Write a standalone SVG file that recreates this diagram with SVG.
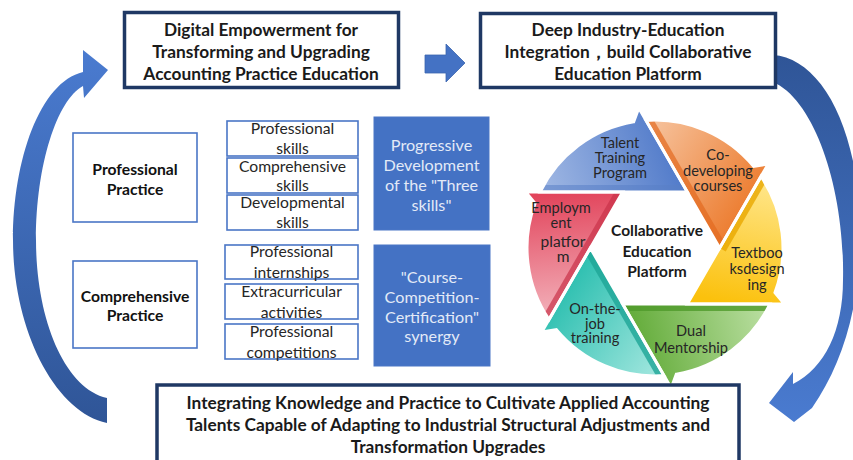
<svg xmlns="http://www.w3.org/2000/svg" width="853" height="460" viewBox="0 0 853 460">
  <style>
    .title { font-family: Lato, "Liberation Sans", sans-serif; font-weight: bold; font-size: 17.3px; fill: #1a1a1a; text-anchor: middle; }
    .frame { fill: #ffffff; stroke: #1f3864; stroke-width: 3.5; }
    .lbox { fill: #ffffff; stroke: #4a76c6; stroke-width: 1.6; }
    .lbl { font-family: Lato, "Liberation Sans", sans-serif; font-weight: bold; font-size: 15.7px; fill: #111111; text-anchor: middle; }
    .item { font-family: Lato, "Liberation Sans", sans-serif; font-size: 15.7px; fill: #262626; text-anchor: middle; }
    .bbox { fill: #4472c4; stroke: #4a76c6; stroke-width: 1; }
    .btxt { font-family: Lato, "Liberation Sans", sans-serif; font-size: 16.2px; fill: #e3eaf7; text-anchor: middle; }
    .wtxt { font-family: Lato, "Liberation Sans", sans-serif; font-size: 14.6px; fill: #262626; text-anchor: middle; }
    .ctxt { font-family: Lato, "Liberation Sans", sans-serif; font-weight: bold; font-size: 15.5px; fill: #1a1a1a; text-anchor: middle; }
    .gap { fill: none; stroke: #ffffff; stroke-width: 3; stroke-linejoin: miter; }
  </style>
  <defs>
    <linearGradient id="gLeft" x1="0" y1="0" x2="0" y2="1">
      <stop offset="0" stop-color="#4a7bd0"/>
      <stop offset="1" stop-color="#2f5597"/>
    </linearGradient>
    <linearGradient id="gRight" x1="0" y1="0" x2="0" y2="1">
      <stop offset="0" stop-color="#2f5597"/>
      <stop offset="1" stop-color="#4a7bd0"/>
    </linearGradient>
    <!-- blade gradients: light at the trailing end, saturated at the tip -->
    <linearGradient id="gBlue" gradientUnits="userSpaceOnUse" x1="545" y1="190" x2="690" y2="140">
      <stop offset="0" stop-color="#9fb7e3"/>
      <stop offset="1" stop-color="#4672c6"/>
    </linearGradient>
    <linearGradient id="gOrange" gradientUnits="userSpaceOnUse" x1="650" y1="125" x2="760" y2="200">
      <stop offset="0" stop-color="#f6c29c"/>
      <stop offset="1" stop-color="#ec7a2c"/>
    </linearGradient>
    <linearGradient id="gYellow" gradientUnits="userSpaceOnUse" x1="765" y1="185" x2="740" y2="305">
      <stop offset="0" stop-color="#ffe587"/>
      <stop offset="1" stop-color="#fbc10d"/>
    </linearGradient>
    <linearGradient id="gGreen" gradientUnits="userSpaceOnUse" x1="765" y1="310" x2="640" y2="340">
      <stop offset="0" stop-color="#b9dea0"/>
      <stop offset="1" stop-color="#67ae3e"/>
    </linearGradient>
    <linearGradient id="gTeal" gradientUnits="userSpaceOnUse" x1="660" y1="375" x2="555" y2="300">
      <stop offset="0" stop-color="#a3e7df"/>
      <stop offset="1" stop-color="#2fc0b1"/>
    </linearGradient>
    <linearGradient id="gRed" gradientUnits="userSpaceOnUse" x1="550" y1="318" x2="540" y2="195">
      <stop offset="0" stop-color="#f3b2bb"/>
      <stop offset="1" stop-color="#e2455c"/>
    </linearGradient>
    <path id="bRed" d="M622.7,192 L525.6,192 L535,203.4 A128,128 0 0 0 549,319.6 Z"/>
    <path id="bBlue" d="M687.35,192 L638.8,107.9 L633.65,121.8 A128,128 0 0 0 540,192 Z"/>
    <path id="bOrange" d="M719.65,248 L768.2,163.9 L753.6,166.4 A128,128 0 0 0 646,120.4 Z"/>
    <path id="bYellow" d="M687.3,304 L784.4,304 L775,292.6 A128,128 0 0 0 761,176.4 Z"/>
    <path id="bGreen" d="M622.65,304 L671.2,388.1 L676.35,374.2 A128,128 0 0 0 770,304 Z"/>
    <path id="bTeal" d="M590.35,248 L541.8,332.1 L556.4,329.6 A128,128 0 0 0 664,375.6 Z"/>
    <clipPath id="cRed"><use href="#bRed"/></clipPath>
    <clipPath id="cBlue"><use href="#bBlue"/></clipPath>
    <clipPath id="cOrange"><use href="#bOrange"/></clipPath>
    <clipPath id="cYellow"><use href="#bYellow"/></clipPath>
    <clipPath id="cGreen"><use href="#bGreen"/></clipPath>
    <clipPath id="cTeal"><use href="#bTeal"/></clipPath>
  </defs>

  <rect width="853" height="460" fill="#ffffff"/>

  <!-- connectors -->
  <g id="connectors">
    <path id="arrow-left" fill="url(#gLeft)" d="M83,50 L108,70 L84,98 L83,86 C57,100 36,165 36,240 C36,318 64,388 107,398 L107,423 C55,412 13,330 13,240 C13,160 40,82 83,72 Z"/>
    <path id="arrow-top" fill="#4472c4" stroke="#3b64ae" stroke-width="0.8" d="M425,55 L446,55 L446,44 L465,63 L446,82 L446,73 L425,73 Z"/>
    <path id="arrow-right" fill="url(#gRight)" d="M773,55 C818,58 856,120 860,220 C862,300 845,360 812,408 L794,422 L769,403 L793,372 L793,384 C825,368 843,330 843,280 C845,190 815,100 773,82 Z"/>
  </g>

  <g id="node-digital">
    <rect class="frame" x="124.5" y="12.5" width="274" height="75"/>
    <text class="title" x="261" y="35.5">Digital Empowerment for</text>
    <text class="title" x="261" y="57.5">Transforming and Upgrading</text>
    <text class="title" x="261" y="79.5">Accounting Practice Education</text>
  </g>

  <g id="node-industry">
    <rect class="frame" x="480.5" y="13.5" width="295" height="74"/>
    <text class="title" x="628" y="35.5">Deep Industry-Education</text>
    <text class="title" x="628" y="57.5">Integration，build Collaborative</text>
    <text class="title" x="628" y="79.5">Education Platform</text>
  </g>

  <g id="node-professional-practice">
    <rect class="lbox" x="73" y="133" width="124" height="89"/>
    <text class="lbl" x="135" y="174.5">Professional</text>
    <text class="lbl" x="135" y="194.5">Practice</text>
  </g>

  <g id="node-professional-skills">
    <rect class="lbox" x="227" y="121" width="131" height="35"/>
    <text class="item" x="292.5" y="134">Professional</text>
    <text class="item" x="292.5" y="154">skills</text>
  </g>
  <g id="node-comprehensive-skills">
    <rect class="lbox" x="227" y="158" width="131" height="35"/>
    <text class="item" x="292.5" y="172">Comprehensive</text>
    <text class="item" x="292.5" y="191">skills</text>
  </g>
  <g id="node-developmental-skills">
    <rect class="lbox" x="227" y="195" width="131" height="35"/>
    <text class="item" x="292.5" y="208">Developmental</text>
    <text class="item" x="292.5" y="228">skills</text>
  </g>

  <g id="node-three-skills">
    <rect class="bbox" x="374" y="117" width="115" height="113"/>
    <text class="btxt" x="431.5" y="150.5">Progressive</text>
    <text class="btxt" x="431.5" y="170.8">Development</text>
    <text class="btxt" x="431.5" y="191.1">of the "Three</text>
    <text class="btxt" x="431.5" y="211.4">skills"</text>
  </g>

  <g id="node-comprehensive-practice">
    <rect class="lbox" x="73" y="261" width="124" height="87"/>
    <text class="lbl" x="135" y="301.5">Comprehensive</text>
    <text class="lbl" x="135" y="320.5">Practice</text>
  </g>

  <g id="node-internships">
    <rect class="lbox" x="225" y="245" width="133" height="34"/>
    <text class="item" x="291.5" y="257">Professional</text>
    <text class="item" x="291.5" y="278">internships</text>
  </g>
  <g id="node-extracurricular">
    <rect class="lbox" x="225" y="284" width="133" height="35"/>
    <text class="item" x="291.5" y="297">Extracurricular</text>
    <text class="item" x="291.5" y="318">activities</text>
  </g>
  <g id="node-competitions">
    <rect class="lbox" x="225" y="324" width="133" height="35"/>
    <text class="item" x="291.5" y="337">Professional</text>
    <text class="item" x="291.5" y="358">competitions</text>
  </g>

  <g id="node-synergy">
    <rect class="bbox" x="374" y="245" width="116" height="121"/>
    <text class="btxt" x="432" y="282.5">"Course-</text>
    <text class="btxt" x="432" y="302.5">Competition-</text>
    <text class="btxt" x="432" y="322.5">Certification"</text>
    <text class="btxt" x="432" y="341.5">synergy</text>
  </g>

  <!-- six-blade cycle of the collaborative education platform -->
  <g id="node-platform-wheel">
    <use href="#bBlue" fill="url(#gBlue)"/>
    <use href="#bOrange" fill="url(#gOrange)"/>
    <use href="#bYellow" fill="url(#gYellow)"/>
    <use href="#bGreen" fill="url(#gGreen)"/>
    <use href="#bTeal" fill="url(#gTeal)"/>
    <use href="#bRed" fill="url(#gRed)"/>
    <!-- bevel stripes along each blade's inner edge -->
    <polygon clip-path="url(#cBlue)" fill="#5a80c6" opacity="0.55" points="540,192 687.35,192 687.35,185 540,185"/>
    <polygon clip-path="url(#cOrange)" fill="#e2691f" opacity="0.7" points="646,120.4 719.65,248 725.7,244.5 652,117"/>
    <polygon clip-path="url(#cYellow)" fill="#e8a800" opacity="0.8" points="761,176.4 719.65,248 725.7,251.5 767,180"/>
    <polygon clip-path="url(#cGreen)" fill="#4f9a2a" opacity="0.8" points="770,304 622.65,304 622.65,311 770,311"/>
    <polygon clip-path="url(#cTeal)" fill="#1ea596" opacity="0.8" points="664,375.6 590.35,248 584.3,251.5 658,379"/>
    <polygon clip-path="url(#cRed)" fill="#c93249" opacity="0.7" points="549,319.6 622.7,192 616.6,188.5 543,316"/>
    <use href="#bBlue" class="gap"/>
    <use href="#bOrange" class="gap"/>
    <use href="#bYellow" class="gap"/>
    <use href="#bGreen" class="gap"/>
    <use href="#bTeal" class="gap"/>
    <use href="#bRed" class="gap"/>
  </g>

  <g id="node-talent">
    <text class="wtxt" x="620" y="148">Talent</text>
    <text class="wtxt" x="620" y="163">Training</text>
    <text class="wtxt" x="620" y="178">Program</text>
  </g>
  <g id="node-courses">
    <text class="wtxt" x="718" y="160">Co-</text>
    <text class="wtxt" x="718" y="175.5">developing</text>
    <text class="wtxt" x="718" y="191">courses</text>
  </g>
  <g id="node-textbooks">
    <text class="wtxt" x="757" y="258">Textboo</text>
    <text class="wtxt" x="757" y="274">ksdesign</text>
    <text class="wtxt" x="757" y="290">ing</text>
  </g>
  <g id="node-mentorship">
    <text class="wtxt" x="691" y="336">Dual</text>
    <text class="wtxt" x="691" y="353">Mentorship</text>
  </g>
  <g id="node-onthejob">
    <text class="wtxt" x="595" y="314">On-the-</text>
    <text class="wtxt" x="595" y="329">job</text>
    <text class="wtxt" x="595" y="343">training</text>
  </g>
  <g id="node-employment">
    <text class="wtxt" x="561" y="213">Employm</text>
    <text class="wtxt" x="561" y="228">ent</text>
    <text class="wtxt" x="563" y="247" style="font-size:15.5px">platfor</text>
    <text class="wtxt" x="563" y="262" style="font-size:15.5px">m</text>
  </g>
  <g id="node-platform-center">
    <text class="ctxt" x="657" y="236">Collaborative</text>
    <text class="ctxt" x="657" y="257">Education</text>
    <text class="ctxt" x="657" y="277">Platform</text>
  </g>

  <g id="node-talents">
    <rect class="frame" x="157" y="385" width="582" height="90"/>
    <text class="title" x="448" y="408.5">Integrating Knowledge and Practice to Cultivate Applied Accounting</text>
    <text class="title" x="448" y="430.5">Talents Capable of Adapting to Industrial Structural Adjustments and</text>
    <text class="title" x="448" y="452.5">Transformation Upgrades</text>
  </g>
</svg>
